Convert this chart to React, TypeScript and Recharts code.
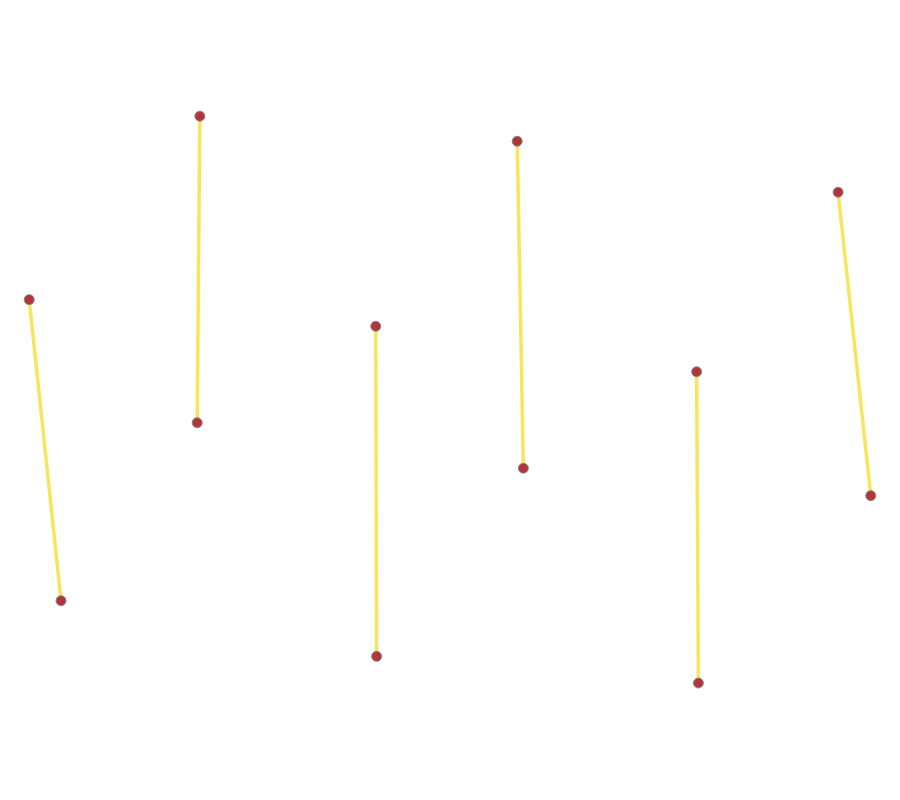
import { ScatterChart, Scatter, XAxis, YAxis } from "recharts";

// six pairs of points, each pair joined by a line
const segmentNames = ["A", "B", "C", "D", "E", "F"];
const startX = [2.4, 21.7, 41.6, 57.6, 77.9, 93.9];
const startY = [62.8, 86.2, 59.4, 83.0, 53.6, 76.5];
const endX = [6.0, 21.4, 41.7, 58.3, 78.1, 97.6];
const endY = [24.4, 47.1, 17.3, 41.3, 13.9, 37.8];

const segments = segmentNames.map((name, i) => ({
  name,
  points: [
    { x: startX[i], y: startY[i] },
    { x: endX[i], y: endY[i] },
  ],
}));

const Dot = (props: any) => {
  const { cx, cy } = props;
  if (cx == null || cy == null) return null;
  return (
    <circle cx={cx} cy={cy} r={5} fill="#b1353b" stroke="#8a8a8a" strokeWidth={1} />
  );
};

export default function App() {
  return (
    <ScatterChart
      width={884}
      height={784}
      margin={{ top: 0, right: 0, bottom: 0, left: 0 }}
    >
      <XAxis type="number" dataKey="x" domain={[0, 100]} hide />
      <YAxis type="number" dataKey="y" domain={[0, 100]} hide />
      {segments.map((s) => (
        <Scatter
          key={s.name}
          name={s.name}
          data={s.points}
          line={{ stroke: "#f9e45e", strokeWidth: 3.5 }}
          shape={<Dot />}
          isAnimationActive={false}
        />
      ))}
    </ScatterChart>
  );
}
